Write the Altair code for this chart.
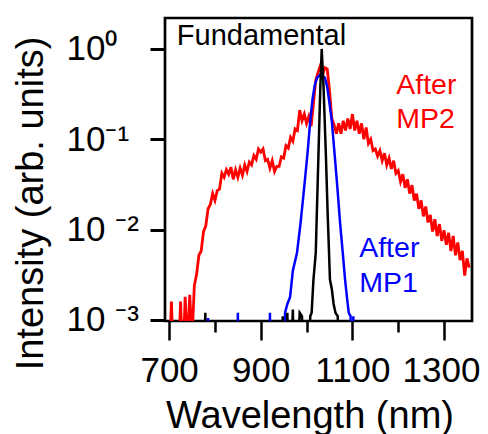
import altair as alt
import pandas as pd

# ---------------- data ----------------
# After MP2 (red), sampled every 5 nm from 700 nm
mp2_wl = list(range(700, 1360, 5))
mp2_int = [
    0.0003, 0.0016, 0.0003, 0.0003, 0.0003, 0.0016, 0.0003, 0.0018, 0.0005, 0.0019,
    0.0006, 0.0024, 0.0032, 0.0052, 0.0058, 0.0095, 0.011, 0.017, 0.019, 0.025,
    0.021, 0.027, 0.028, 0.042, 0.038, 0.046, 0.041, 0.049, 0.036, 0.046,
    0.038, 0.048, 0.040, 0.052, 0.044, 0.056, 0.052, 0.066, 0.060, 0.078,
    0.072, 0.078, 0.058, 0.060, 0.048, 0.058, 0.044, 0.050, 0.050, 0.064,
    0.062, 0.085, 0.080, 0.105, 0.095, 0.13, 0.125, 0.21, 0.16, 0.19,
    0.15, 0.18, 0.14, 0.25, 0.45, 0.55, 0.65, 0.52, 0.62, 0.60,
    0.35, 0.17, 0.145, 0.115, 0.15, 0.115, 0.16, 0.125, 0.17, 0.13,
    0.19, 0.125, 0.16, 0.115, 0.15, 0.10, 0.135, 0.09, 0.10, 0.075,
    0.078, 0.065, 0.075, 0.058, 0.070, 0.052, 0.062, 0.047, 0.058, 0.042,
    0.045, 0.034, 0.041, 0.029, 0.036, 0.025, 0.031, 0.021, 0.025, 0.017,
    0.021, 0.014, 0.018, 0.012, 0.0145, 0.0095, 0.013, 0.0085, 0.0115, 0.0075,
    0.0098, 0.0068, 0.0092, 0.0058, 0.0085, 0.0052, 0.0072, 0.0046, 0.0058, 0.0031,
    0.0048, 0.0038,
]

# After MP1 (blue)
mp1_wl = [700, 782, 785, 788, 848, 850, 852, 918, 920, 922, 950, 953, 958, 964,
          970, 979, 987, 995, 1002, 1008, 1013, 1018, 1023, 1030, 1035, 1040,
          1045, 1050, 1055, 1061, 1067, 1073, 1079, 1084, 1088, 1092, 1096,
          1098, 1102, 1104, 1360]
mp1_int = [0.0001, 0.0001, 0.00105, 0.0001, 0.0001, 0.0012, 0.0001, 0.0001, 0.0012, 0.0001,
           0.0001, 0.0012, 0.0015, 0.0018, 0.0035, 0.0055, 0.012, 0.030, 0.07, 0.16,
           0.28, 0.40, 0.48, 0.52, 0.50, 0.48, 0.38, 0.25, 0.16, 0.07,
           0.03, 0.012, 0.0055, 0.0028, 0.0018, 0.0012, 0.0011, 0.0001, 0.0011, 0.0001,
           0.0001]

# Fundamental (black)
fund_wl = [700, 775, 779, 782, 945, 948, 952, 958, 962, 970, 975, 985, 990, 995,
           1005, 1008, 1011, 1015, 1020, 1023, 1026, 1030, 1033, 1037, 1042,
           1046, 1049, 1051, 1055, 1059, 1063, 1068, 1071, 1360]
fund_int = [0.0001, 0.0001, 0.0012, 0.0001, 0.0001, 0.0011, 0.0001, 0.0012, 0.0001, 0.0013,
            0.0001, 0.0012, 0.0011, 0.0001, 0.0001, 0.0011, 0.0012, 0.0028, 0.0055, 0.02,
            0.07, 0.38, 1.0, 0.38, 0.07, 0.015, 0.0055, 0.0028, 0.0022, 0.0015,
            0.0012, 0.0011, 0.0001, 0.0001]

# annotations
label_text = ["Fundamental", "After", "MP2", "After", "MP1"]
label_wl = [716.8, 1195.6, 1195.6, 1114.8, 1114.8]
label_int = [1.107, 0.316, 0.132, 0.0050, 0.00205]
label_color = ["#000000", "#ff0000", "#ff0000", "#0000ff", "#0000ff"]
label_size = [29, 28.5, 28.5, 28.5, 28.5]

x_ticks = [700, 800, 900, 1000, 1100, 1200, 1300]
y_ticks = [1, 0.1, 0.01, 0.001]

FONT = "Liberation Sans"
X_DOMAIN = [691, 1361]
Y_DOMAIN = [0.000973, 2.2]

df_mp2 = pd.DataFrame({"wl": mp2_wl, "I": mp2_int})
df_mp1 = pd.DataFrame({"wl": mp1_wl, "I": mp1_int})
df_fund = pd.DataFrame({"wl": fund_wl, "I": fund_int})
df_lab = pd.DataFrame({"t": label_text, "wl": label_wl, "I": label_int,
                       "c": label_color, "s": label_size})

x_enc = alt.X(
    "wl:Q",
    scale=alt.Scale(domain=X_DOMAIN, nice=False, zero=False),
    axis=alt.Axis(
        values=x_ticks,
        format="d",
        labelExpr="(datum.value % 200 == 100) ? datum.label : ''",
        title="Wavelength (nm)",
        titleFontSize=38, titleFont=FONT, titleFontWeight="normal", titleColor="black",
        titleX=144.5, titleY=106, titleBaseline="alphabetic", titleAlign="center",
        labelFontSize=35, labelFont=FONT, labelColor="black",
        labelBaseline="alphabetic", labelPadding=41, labelFlush=False,
        labelOverlap=False,
        labelOffset={"condition": {"test": "datum.value == 1300", "value": -3}, "value": 0},
        tickSize={"condition": {"test": "datum.value % 200 == 100", "value": 19}, "value": 11},
        tickWidth=2.5, tickColor="black",
        domain=False, grid=False,
    ),
)

y_enc = alt.Y(
    "I:Q",
    scale=alt.Scale(type="log", domain=Y_DOMAIN, nice=False),
    axis=alt.Axis(
        values=y_ticks,
        labelExpr="datum.value >= 0.5 ? '10⁰' : datum.value >= 0.05 ? '10⁻¹' : datum.value >= 0.005 ? '10 ⁻²' : '10 ⁻³'",
        title="Intensity (arb. units)",
        titleFontSize=38, titleFont=FONT, titleFontWeight="normal", titleColor="black",
        titleAngle=270, titleX=-123, titleY=185, titleBaseline="alphabetic", titleAlign="center",
        labelFontSize=35, labelFont=FONT, labelColor="black",
        labelAlign="left", labelPadding=84, labelOverlap=False,
        tickSize=15, tickWidth=3, tickColor="black",
        domain=False, grid=False,
    ),
)

red = alt.Chart(df_mp2).mark_line(color="#ff0000", strokeWidth=2.8, clip=True).encode(x=x_enc, y=y_enc)
blue = alt.Chart(df_mp1).mark_line(color="#0000ff", strokeWidth=2.5, clip=True).encode(x="wl:Q", y="I:Q")
black = alt.Chart(df_fund).mark_line(color="#000000", strokeWidth=2.5, clip=True).encode(x="wl:Q", y="I:Q")
labels = alt.Chart(df_lab).mark_text(
    align="left", baseline="alphabetic", font=FONT
).encode(
    x="wl:Q", y="I:Q", text="t:N",
    color=alt.Color("c:N", scale=None),
    size=alt.Size("s:Q", scale=None),
)

chart = alt.layer(red, blue, black, labels).properties(
    width=307, height=303,
    autosize=alt.AutoSizeParams(type="none"),
    padding={"left": 157, "top": 10, "right": 8, "bottom": 113},
).configure_view(stroke="black", strokeWidth=2.7)

chart.save("out.html", embed_options={"renderer": "svg", "actions": False})
